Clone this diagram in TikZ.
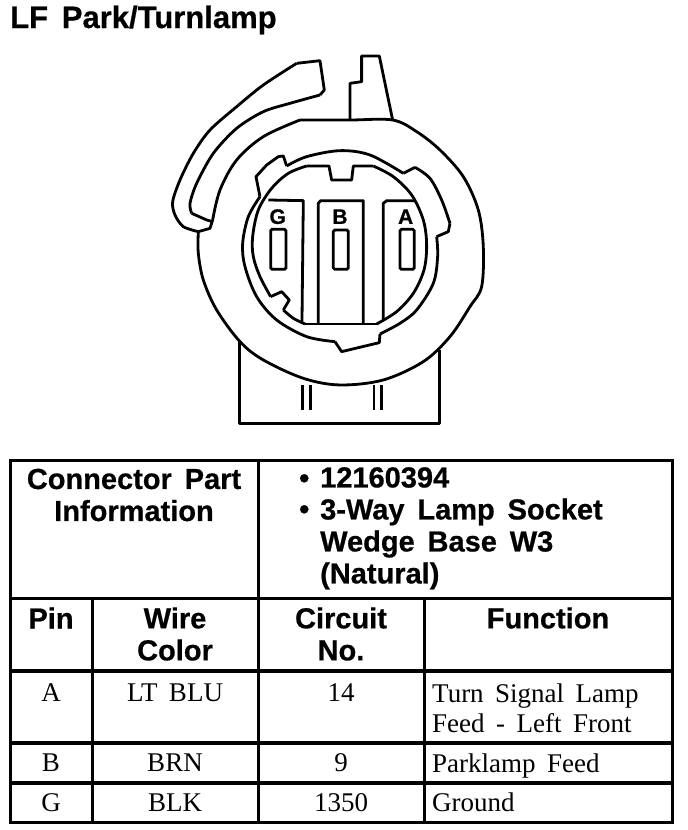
\documentclass[tikz,border=0pt]{standalone}
\usepackage{fontspec}
\setmainfont[WordSpace=1.7]{Liberation Serif}
\newfontfamily\headfont[WordSpace=1.6, BoldFeatures={FakeBold=0.6}]{Liberation Sans}
\usetikzlibrary{positioning}

\begin{document}
\begin{tikzpicture}[x=1pt,y=-1pt]
                \tikzset{Outline/.style={line width=2.8pt, line join=round}}
                \tikzset{Grid/.style={line width=3pt}}
                \tikzset{Slot/.style={line width=2.8pt, rounded corners=1.5pt}}
                \tikzset{Head/.style={font=\headfont\bfseries\fontsize{29}{32}\selectfont, align=center, inner sep=0pt}}
                \tikzset{HeadLeft/.style={Head, align=left, anchor=north west}}
                \tikzset{Pin/.style={font=\headfont\bfseries\fontsize{21}{21}\selectfont, inner sep=0pt}}
                \tikzset{Cell/.style={font=\fontsize{27}{29.5}\selectfont, align=center, inner sep=0pt, anchor=base}}
                \tikzset{CellLeft/.style={Cell, align=left, anchor=base west}}

                \useasboundingbox (0,0) rectangle (688,830);

                \node[Head, anchor=west, font=\headfont\bfseries\fontsize{31}{32}\selectfont] (Title) at (10,20) {LF Park/Turnlamp};

                % connector, coordinates taken from the 3x crop
                \begin{scope}[shift={(150,40)}, x=0.3333pt, y=-0.3333pt]
                    \draw[Outline] plot[smooth, tension=0.55] coordinates {(450,240) (600,240) (728,240) (800,275) (870,330) (940,410) (985,510) (1000,620) (995,740) (960,800) (900,890) (820,965) (700,1020) (570,1035) (460,1015) (340,960) (270,905) (200,810) (160,720) (145,640) (145,575)};
                    \draw[Outline] (145,575) -- (180,565) -- (188,540) plot[smooth, tension=0.55] coordinates {(188,540) (210,450) (260,360) (340,290) (450,240)};
                    \draw[Outline] plot[smooth, tension=0.5] coordinates {(145,575) (100,560) (75,525) (68,485) (90,420) (130,340) (180,270) (260,200) (340,135) (440,70)};
                    \draw[Outline] (440,70) -- (510,62) -- (523,150) -- (510,165);
                    \draw[Outline] plot[smooth, tension=0.5] coordinates {(510,165) (420,190) (340,215) (260,265) (190,340) (140,430) (120,490) (125,520)};
                    \draw[Outline] (125,520) -- (170,540) -- (188,545);
                    \draw[Outline] (600,240) -- (600,130) -- (635,125) -- (635,48) -- (688,48) -- (728,240);

                    % socket ring
                    \draw[Outline] (330,470) -- (318,410) -- (350,375) -- (385,350) -- (400,348) -- (410,378);
                    \draw[Outline] plot[smooth, tension=0.55] coordinates {(410,378) (470,350) (570,332) (660,345) (760,400)};
                    \draw[Outline] (760,400) -- (795,382);
                    \draw[Outline] plot[smooth, tension=0.55] coordinates {(795,382) (840,415) (875,480) (900,550)};
                    \draw[Outline] (900,550) -- (895,575) -- (860,590);
                    \draw[Outline] plot[smooth, tension=0.55] coordinates {(860,590) (863,650) (850,730) (800,810) (750,850) (690,882)};
                    \draw[Outline] (690,882) -- (688,908) -- (575,935) -- (555,905);
                    \draw[Outline] plot[smooth, tension=0.55] coordinates {(555,905) (470,890) (380,840) (320,770) (285,680) (278,610) (295,530) (330,470)};

                    % inner circle with key and notch
                    \draw[Outline] plot[smooth, tension=0.55] coordinates {(362,770) (330,710) (310,650) (308,590) (325,510) (365,445) (415,400) (470,378)};
                    \draw[Outline] (470,378) -- (537,378) -- (545,420) -- (605,420) -- (610,378) -- (670,378);
                    \draw[Outline] plot[smooth, tension=0.55] coordinates {(670,378) (730,410) (785,465) (820,540) (830,615) (822,690) (790,760) (740,815) (680,852)};
                    \draw[Outline] (680,852) -- (465,852);
                    \draw[Outline] plot[smooth, tension=0.55] coordinates {(465,852) (430,835) (400,810)};
                    \draw[Outline] (400,810) -- (418,780) -- (395,755) -- (362,770);

                    % pin blocks
                    \draw[Outline] (355,480) -- (460,482) -- (456,845);
                    \draw[Outline] (505,850) -- (505,490) -- (512,482) -- (640,482) -- (640,850);
                    \draw[Outline] (700,840) -- (700,490) -- (710,482) -- (795,482);
                    \draw[Slot] (362,568) rectangle (408,688);
                    \draw[Slot] (550,570) rectangle (595,688);
                    \draw[Slot] (750,568) rectangle (793,688);
                    \node[Pin] (PinG) at (383,530) {G};
                    \node[Pin] (PinB) at (570,530) {B};
                    \node[Pin] (PinA) at (767,530) {A};

                    % base
                    \draw[Outline] (268,905) -- (268,1150) -- (868,1150) -- (868,930);
                    \foreach \tick in {458,482,672,695}
                        \draw[Outline] (\tick,1035) -- (\tick,1110);
                \end{scope}

                % table
                \draw[Grid] (10,460) rectangle (672,822);
                \draw[Grid] (10,598) -- (672,598);
                \draw[Grid, line width=3.5pt] (10,671) -- (672,671);
                \draw[Grid, line width=3.5pt] (10,743) -- (672,743);
                \draw[Grid, line width=3.5pt] (10,783) -- (672,783);
                \draw[Grid] (258,460) -- (258,822);
                \foreach \col in {92,424}
                    \draw[Grid] (\col,598) -- (\col,822);

                \node[Head] (ConnInfo) at (134,495) {Connector Part\\Information};
                \node[Head, anchor=west] (Bullet1) at (299,481) {\textbullet};
                \node[Head, anchor=west] (Bullet2) at (299,512) {\textbullet};
                \node[HeadLeft] (PartText) at (320,467) {12160394\\3-Way Lamp Socket\\Wedge Base W3\\(Natural)};

                \node[Head] (HPin) at (51,618) {Pin};
                \node[Head] (HWire) at (175,634) {Wire\\Color};
                \node[Head] (HCircuit) at (341,634) {Circuit\\No.};
                \node[Head] (HFunction) at (548,618) {Function};

                \node[Cell] (PinA1) at (51,701) {A};
                \node[Cell] (ColorA) at (175,701) {LT BLU};
                \node[Cell] (CircA) at (341,701) {14};
                \node[CellLeft] (FuncA) at (432,732) {Turn Signal Lamp\\Feed - Left Front};

                \node[Cell] (PinB1) at (51,771) {B};
                \node[Cell] (ColorB) at (175,771) {BRN};
                \node[Cell] (CircB) at (341,771) {9};
                \node[CellLeft] (FuncB) at (432,772) {Parklamp Feed};

                \node[Cell] (PinG1) at (51,811) {G};
                \node[Cell] (ColorG) at (175,811) {BLK};
                \node[Cell] (CircG) at (341,811) {1350};
                \node[CellLeft] (FuncG) at (432,811) {Ground};
            \end{tikzpicture}
\end{document}
